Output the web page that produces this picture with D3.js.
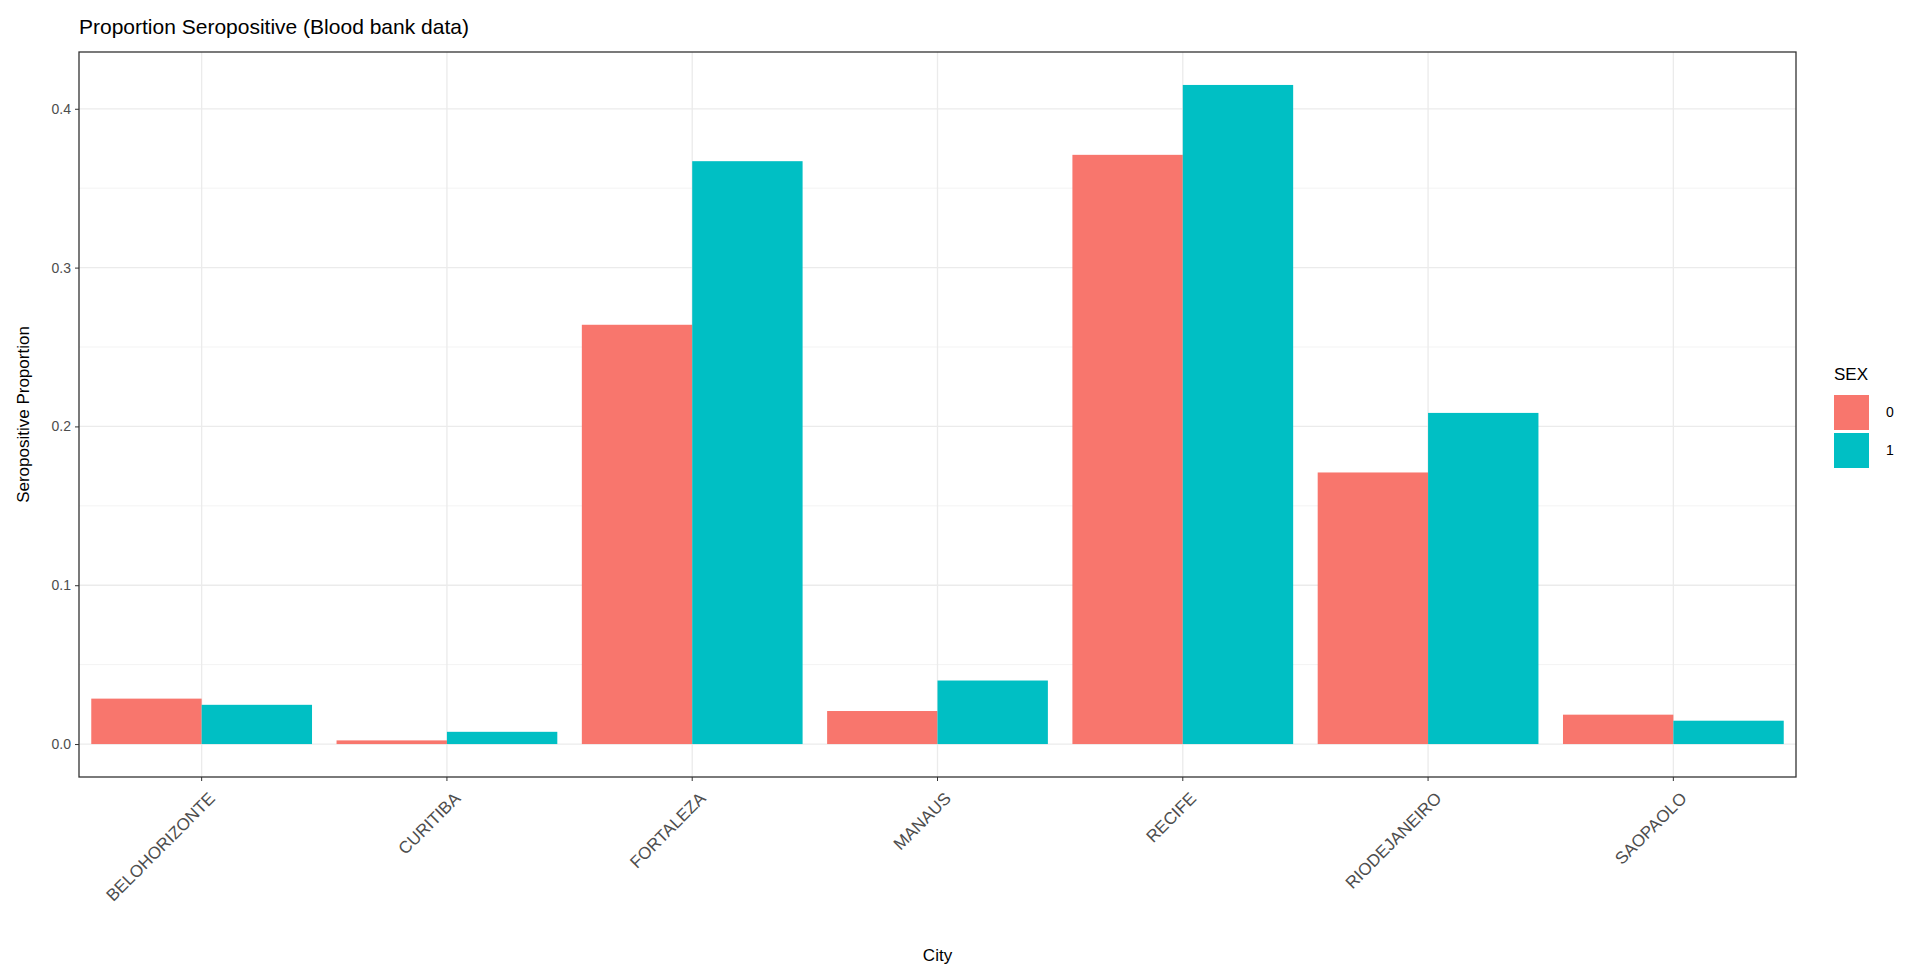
<!DOCTYPE html><html><head><meta charset="utf-8">
<script src="https://cdn.jsdelivr.net/npm/d3@7"></script>
<style>body{margin:0;background:#fff}text{font-family:"Liberation Sans",Arial,sans-serif}</style></head><body>
<svg id="c" width="1918" height="975"></svg>
<script>
const cities=["BELOHORIZONTE","CURITIBA","FORTALEZA","MANAUS","RECIFE","RIODEJANEIRO","SAOPAOLO"];
const sexes=["0","1"];
const sex0=[0.0286,0.0023,0.264,0.0208,0.371,0.171,0.0185];
const sex1=[0.0247,0.0077,0.367,0.040,0.415,0.2085,0.0147];
const yTicks=[0,0.1,0.2,0.3,0.4];
const colors=["#F8766D","#00BFC4"];
const svg=d3.select("#c");
const L=79,R=1796,T=52,B=777;
const x=d3.scaleBand().domain(cities).range([L,R]).paddingInner(0.1).paddingOuter(0.05);
const xs=d3.scaleBand().domain(sexes).range([0,x.bandwidth()]);
const y=d3.scaleLinear().domain([-0.02075,0.43575]).range([B,T]);
// grid
const minor=[0.05,0.15,0.25,0.35];
svg.append("g").selectAll("line").data(minor).join("line").attr("x1",L).attr("x2",R).attr("y1",d=>y(d)).attr("y2",d=>y(d)).attr("stroke","#ebebeb").attr("stroke-width",0.6);
svg.append("g").selectAll("line").data(yTicks).join("line").attr("x1",L).attr("x2",R).attr("y1",d=>y(d)).attr("y2",d=>y(d)).attr("stroke","#ebebeb").attr("stroke-width",1.3);
svg.append("g").selectAll("line").data(cities).join("line").attr("y1",T).attr("y2",B).attr("x1",d=>x(d)+x.bandwidth()/2).attr("x2",d=>x(d)+x.bandwidth()/2).attr("stroke","#ebebeb").attr("stroke-width",1.3);
// bars
[sex0,sex1].forEach((vals,si)=>{
 svg.append("g").selectAll("rect").data(cities).join("rect")
  .attr("x",c=>x(c)+xs(sexes[si])).attr("width",xs.bandwidth())
  .attr("y",(c,i)=>y(vals[i])).attr("height",(c,i)=>y(0)-y(vals[i])).attr("fill",colors[si]);
});
svg.append("rect").attr("x",L).attr("y",T).attr("width",R-L).attr("height",B-T).attr("fill","none").attr("stroke","#333").attr("stroke-width",1.3);
// axes
const ya=svg.append("g").attr("transform",`translate(${L},0)`).call(d3.axisLeft(y).tickValues(yTicks).tickFormat(d3.format(".1f")).tickSize(4).tickPadding(4));
ya.select(".domain").remove();
ya.selectAll("line").attr("stroke","#333");
ya.selectAll("text").attr("font-size",14).attr("fill","#4d4d4d");
const xa=svg.append("g").attr("transform",`translate(0,${B})`).call(d3.axisBottom(x).tickSize(4));
xa.select(".domain").remove();
xa.selectAll("line").attr("stroke","#333");
xa.selectAll("text").attr("font-size",17).attr("fill","#4d4d4d").attr("text-anchor","end").attr("dy",null)
 .attr("transform","translate(6,14) rotate(-45)").attr("y",0).attr("x",0).attr("dominant-baseline","hanging");
// titles
svg.append("text").attr("x",L).attr("y",34).attr("font-size",21).text("Proportion Seropositive (Blood bank data)");
svg.append("text").attr("x",(L+R)/2).attr("y",961).attr("text-anchor","middle").attr("font-size",17).text("City");
svg.append("text").attr("transform",`translate(29,${(T+B)/2}) rotate(-90)`).attr("text-anchor","middle").attr("font-size",17).text("Seropositive Proportion");
// legend
const lg=svg.append("g");
lg.append("text").attr("x",1834).attr("y",380).attr("font-size",17).text("SEX");
sexes.forEach((s,i)=>{
 lg.append("rect").attr("x",1834).attr("y",395+i*38).attr("width",35).attr("height",35).attr("fill",colors[i]);
 lg.append("text").attr("x",1886).attr("y",413+i*38).attr("dominant-baseline","middle").attr("font-size",14).text(s);
});
</script></body></html>
